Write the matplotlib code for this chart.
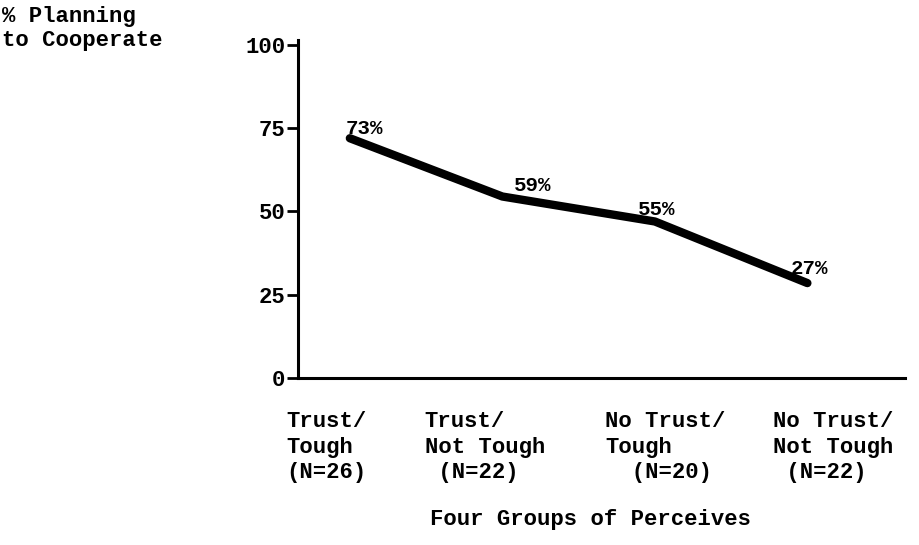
import matplotlib
matplotlib.use('Agg')
import matplotlib.pyplot as plt

groups = ['Trust/\nTough\n(N=26)', 'Trust/\nNot Tough\n (N=22)',
          'No Trust/\nTough\n  (N=20)', 'No Trust/\nNot Tough\n (N=22)']
pct_labels = ['73%', '59%', '55%', '27%']
line_values = [72, 54.5, 47, 28.5]
yticks = [0, 25, 50, 75, 100]

plt.rcParams['font.family'] = ['Liberation Mono', 'DejaVu Sans Mono']
plt.rcParams['font.weight'] = 'bold'

fig = plt.figure(figsize=(9.2, 5.45), dpi=100)
ax = fig.add_axes([298 / 920, 1 - 378 / 545, (905 - 298) / 920, (378 - 40) / 545])

x = list(range(len(groups)))
ax.plot(x, line_values, color='black', linewidth=6, solid_capstyle='round')

label_offsets = [(-3, 0), (8, 1), (-12, 2), (-12, 4)]
for xi, v, lab, off in zip(x, line_values, pct_labels, label_offsets):
    ax.annotate(lab, (xi, v), xytext=off, textcoords='offset points',
                ha='left', va='bottom', fontsize=15, fontweight='bold')

ax.set_xlim(-0.34, 3.64)
ax.set_ylim(0, 101.5)
ax.set_yticks(yticks)
ax.set_yticklabels([str(t) for t in yticks], fontsize=16, fontweight='bold')
ax.tick_params(axis='y', direction='out', length=8, width=2, pad=1)
ax.set_xticks([])

for s in ['top', 'right']:
    ax.spines[s].set_visible(False)
ax.spines['left'].set_linewidth(2.2)
ax.spines['bottom'].set_linewidth(2.2)

# category labels under the axis
label_dx = [-46, -56, -36, -25]
for xi, g, dx in zip(x, groups, label_dx):
    ax.annotate(g, (xi, 0), xytext=(dx, -24), textcoords='offset points',
                ha='left', va='top', fontsize=16, fontweight='bold',
                linespacing=1.27, annotation_clip=False)

fig.text(430 / 920, 1 - 520 / 545, 'Four Groups of Perceives', ha='left',
         va='center', fontsize=16, fontweight='bold')
fig.text(2 / 920, 1 - 6 / 545, '% Planning\nto Cooperate', ha='left', va='top',
         fontsize=16, fontweight='bold', linespacing=1.2)

fig.savefig('out.png', dpi=100)
